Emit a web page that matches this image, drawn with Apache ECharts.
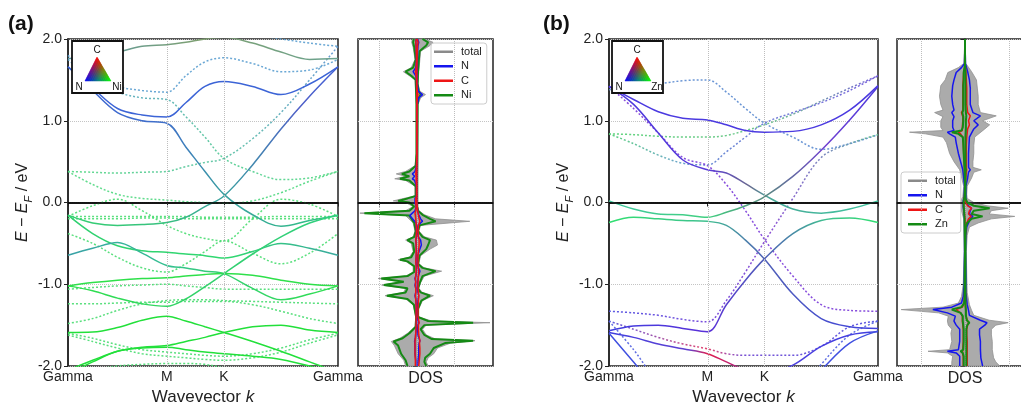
<!DOCTYPE html>
<html><head><meta charset="utf-8">
<script src="https://cdn.jsdelivr.net/npm/echarts@6/dist/echarts.min.js"></script>
<style>html,body{margin:0;padding:0;background:#fff}#c{width:1021px;height:404px}</style>
</head><body><div id="c"></div>
<script>
// ---------- k path ----------
const kPos = [0, 0.144, 0.289, 0.433, 0.577, 0.688, 0.800, 0.911, 1.078, 1.244, 1.411, 1.577];
const kTickPos = [0, 0.577, 0.911, 1.577];
const kTickLabels = ['Gamma', 'M', 'K', 'Gamma'];
const eTicks = [-2, -1, 0, 1, 2];

// ---------- panel (a) bands: solid (spin up) ----------
const sa1 = [1.76, 1.78, 1.84, 1.91, 1.93, 1.96, 2.0, 2.02, 1.95, 1.84, 1.75, 1.76];
const sa2 = [1.66, 1.40, 1.15, 1.07, 1.045, 1.22, 1.42, 1.48, 1.42, 1.32, 1.45, 1.66];
const sa3 = [1.66, 1.37, 1.10, 1.00, 0.97, 0.68, 0.38, 0.10, -0.15, -0.29, -0.22, -0.155];
const sa4 = [-0.155, -0.25, -0.28, -0.27, -0.245, -0.18, -0.05, 0.08, 0.46, 0.90, 1.30, 1.66];
const sa5 = [-0.155, -0.38, -0.53, -0.59, -0.61, -0.63, -0.65, -0.68, -0.60, -0.50, -0.56, -0.645];
const sa6 = [-0.645, -0.56, -0.49, -0.62, -0.77, -0.80, -0.84, -0.87, -1.05, -1.19, -1.12, -1.02];
const sa7 = [-1.02, -0.98, -0.95, -0.93, -0.92, -0.90, -0.88, -0.87, -0.89, -0.95, -1.00, -1.02];
const sa8 = [-1.02, -1.08, -1.17, -1.24, -1.27, -1.18, -1.03, -0.87, -0.63, -0.42, -0.25, -0.155];
const sa9 = [-1.59, -1.585, -1.53, -1.44, -1.39, -1.45, -1.52, -1.59, -1.70, -1.82, -1.95, -2.08];
const sa10 = [-2.05, -1.93, -1.82, -1.77, -1.75, -1.70, -1.65, -1.59, -1.52, -1.50, -1.56, -1.59];
const sa11 = [-2.10, -1.95, -1.82, -1.78, -1.77, -1.80, -1.83, -1.85, -1.88, -1.92, -2.00, -2.10];
// ---------- panel (a) bands: dotted (spin down) ----------
const da1 = [1.80, 1.55, 1.42, 1.37, 1.35, 1.55, 1.72, 1.77, 1.70, 1.60, 1.62, 1.75];
const da2 = [1.75, 1.50, 1.35, 1.28, 1.26, 1.05, 0.80, 0.54, 0.38, 0.28, 0.30, 0.38];
const da3 = [0.38, 0.37, 0.36, 0.37, 0.38, 0.44, 0.49, 0.54, 0.78, 1.10, 1.50, 1.91];
const da4 = [2.10, 2.10, 2.10, 2.10, 2.10, 2.10, 2.10, 2.08, 2.05, 2.00, 1.95, 1.91];
const da5 = [0.38, 0.22, 0.10, 0.05, 0.03, 0.01, 0.00, -0.01, 0.02, 0.12, 0.26, 0.38];
const da6 = [-0.17, -0.17, -0.17, -0.17, -0.17, -0.17, -0.18, -0.18, -0.18, -0.17, -0.17, -0.17];
const da7 = [-0.20, -0.20, -0.20, -0.19, -0.19, -0.20, -0.20, -0.20, -0.20, -0.20, -0.20, -0.20];
const da8 = [-0.17, -0.04, 0.04, -0.10, -0.28, -0.38, -0.44, -0.47, -0.20, 0.04, -0.02, -0.17];
const da9 = [-0.38, -0.50, -0.67, -0.80, -0.85, -0.75, -0.60, -0.47, -0.62, -0.75, -0.62, -0.38];
const da10 = [-1.06, -1.04, -1.02, -1.01, -1.00, -1.02, -1.04, -1.06, -1.06, -1.06, -1.06, -1.06];
const da11 = [-1.48, -1.42, -1.32, -1.24, -1.20, -1.19, -1.19, -1.20, -1.21, -1.22, -1.23, -1.24];
const da12 = [-1.24, -1.24, -1.23, -1.22, -1.22, -1.21, -1.21, -1.21, -1.25, -1.33, -1.42, -1.48];
const da13 = [-1.60, -1.66, -1.74, -1.80, -1.83, -1.85, -1.87, -1.88, -1.85, -1.78, -1.68, -1.60];
const da14 = [-1.62, -1.70, -1.78, -1.85, -1.88, -1.90, -1.92, -1.93, -1.90, -1.83, -1.72, -1.62];
const da15 = [-2.10, -2.05, -2.00, -1.98, -1.97, -1.97, -1.98, -2.02, -2.05, -2.10, -2.10, -2.10];

// ---------- panel (b) bands ----------
const sb1 = [1.42, 1.26, 1.11, 1.03, 1.01, 0.95, 0.88, 0.86, 0.87, 0.95, 1.13, 1.43];
const sb2 = [1.42, 1.20, 0.85, 0.52, 0.40, 0.36, 0.23, 0.09, -0.08, -0.13, -0.08, 0.02];
const sb3 = [0.02, -0.08, -0.14, -0.15, -0.18, -0.12, -0.04, 0.07, 0.32, 0.64, 1.01, 1.42];
const sb4 = [-0.245, -0.18, -0.20, -0.22, -0.23, -0.28, -0.46, -0.69, -1.12, -1.42, -1.52, -1.54];
const sb5 = [-1.57, -1.51, -1.50, -1.54, -1.58, -1.25, -0.95, -0.69, -0.38, -0.22, -0.19, -0.245];
const sb6 = [-1.59, -1.65, -1.73, -1.79, -1.85, -1.95, -2.05, -2.10, -1.99, -1.76, -1.62, -1.58];
const sb7 = [-1.60, -1.95, -2.30, -2.40, -2.50, -2.50, -2.50, -2.50, -2.40, -2.05, -1.72, -1.57];
const db1 = [1.38, 1.41, 1.45, 1.49, 1.50, 1.35, 1.15, 0.97, 0.80, 0.65, 0.72, 0.83];
const db2 = [0.84, 0.83, 0.81, 0.80, 0.80, 0.82, 0.88, 0.95, 1.08, 1.24, 1.40, 1.55];
const db3 = [0.84, 0.72, 0.58, 0.48, 0.46, 0.62, 0.80, 0.97, 1.10, 1.22, 1.37, 1.55];
const db4 = [1.42, 1.15, 0.85, 0.55, 0.45, 0.22, -0.10, -0.45, -0.90, -1.25, -1.32, -1.33];
const db5 = [-1.33, -1.35, -1.38, -1.43, -1.46, -1.20, -0.85, -0.48, 0.05, 0.55, 0.72, 0.83];
const db6 = [-1.45, -1.55, -1.65, -1.73, -1.79, -1.85, -1.87, -1.87, -1.87, -1.76, -1.52, -1.45];
const db7 = [-1.45, -1.80, -2.20, -2.40, -2.50, -2.50, -2.50, -2.50, -2.40, -1.98, -1.62, -1.45];

// ---------- DOS (a) ----------
const dosA_upE = [-2.0,-1.95,-1.9,-1.85,-1.78,-1.72,-1.69,-1.67,-1.62,-1.55,-1.5,-1.47,-1.45,-1.4,-1.3,-1.2,-1.14,-1.1,-1.05,-0.98,-0.9,-0.84,-0.8,-0.75,-0.65,-0.57,-0.52,-0.46,-0.42,-0.35,-0.28,-0.23,-0.2,-0.15,-0.1,-0.05,0.0,0.3,1.2,1.28,1.32,1.36,1.45,1.6,1.85,1.92,1.96,2.0];
const dosA_upTot = [0.3,0.25,0.3,0.45,0.55,0.9,1.55,0.5,0.25,0.15,0.25,1.95,0.4,0.05,0.05,0.15,0.44,0.15,0.05,0.1,0.2,0.66,0.2,0.05,0.1,0.35,0.55,0.52,0.2,0.05,0.1,1.41,0.5,0.2,0.05,0.02,0.02,0.02,0.03,0.1,0.23,0.08,0.03,0.05,0.1,0.35,0.43,0.2];
const dosA_upNi = [0.25,0.2,0.22,0.35,0.45,0.75,1.5,0.4,0.2,0.1,0.2,1.5,0.3,0.03,0.03,0.12,0.35,0.1,0.03,0.08,0.15,0.5,0.15,0.03,0.07,0.25,0.3,0.35,0.15,0.03,0.07,0.5,0.35,0.15,0.03,0.01,0.01,0.01,0.02,0.05,0.1,0.05,0.02,0.03,0.07,0.25,0.3,0.15];
const dosA_upN = [0.03,0.03,0.04,0.05,0.05,0.06,0.08,0.05,0.03,0.02,0.03,0.05,0.03,0.01,0.01,0.03,0.05,0.03,0.01,0.02,0.04,0.08,0.04,0.01,0.02,0.08,0.12,0.10,0.04,0.01,0.03,0.15,0.10,0.05,0.02,0.01,0.0,0.0,0.01,0.05,0.15,0.04,0.01,0.01,0.02,0.03,0.05,0.02];
const dosA_upC = [0.05,0.06,0.07,0.08,0.08,0.07,0.08,0.06,0.05,0.04,0.04,0.06,0.04,0.03,0.03,0.04,0.05,0.04,0.03,0.03,0.04,0.05,0.04,0.03,0.03,0.05,0.06,0.06,0.04,0.03,0.04,0.08,0.06,0.04,0.02,0.01,0.0,0.0,0.0,0.01,0.03,0.01,0.0,0.0,0.01,0.02,0.03,0.01];
const dosA_dnE = [-2.0,-1.93,-1.85,-1.75,-1.7,-1.66,-1.6,-1.52,-1.4,-1.25,-1.18,-1.14,-1.1,-1.05,-1.01,-0.97,-0.93,-0.9,-0.85,-0.78,-0.72,-0.7,-0.67,-0.6,-0.5,-0.46,-0.42,-0.35,-0.25,-0.16,-0.13,-0.1,-0.05,0.0,0.02,0.05,0.08,0.2,0.27,0.29,0.32,0.35,0.38,0.45,0.6,1.2,1.5,1.55,1.6,1.65,1.75,1.9,1.96,2.0];
const dosA_dnTot = [0.3,0.35,0.5,0.6,0.68,0.45,0.25,0.05,0.03,0.1,0.3,0.85,0.35,0.3,0.94,0.4,1.03,0.3,0.1,0.1,0.3,0.5,0.2,0.1,0.15,0.3,0.1,0.05,0.1,0.3,1.52,0.3,0.1,0.3,0.63,0.35,0.05,0.05,0.3,0.59,0.3,0.55,0.3,0.05,0.02,0.02,0.05,0.2,0.36,0.15,0.05,0.1,0.14,0.12];
const dosA_dnNi = [0.25,0.3,0.42,0.5,0.62,0.38,0.2,0.03,0.02,0.08,0.25,0.8,0.3,0.25,0.88,0.35,0.95,0.25,0.07,0.07,0.25,0.45,0.15,0.07,0.1,0.25,0.07,0.03,0.07,0.2,1.4,0.2,0.07,0.2,0.5,0.25,0.03,0.03,0.2,0.45,0.2,0.4,0.2,0.03,0.01,0.01,0.03,0.15,0.3,0.1,0.03,0.07,0.1,0.08];
const dosA_dnN = [0.03,0.03,0.05,0.05,0.06,0.04,0.03,0.01,0.01,0.02,0.03,0.05,0.03,0.03,0.05,0.03,0.05,0.03,0.01,0.01,0.03,0.04,0.02,0.01,0.02,0.03,0.01,0.01,0.02,0.19,0.12,0.05,0.02,0.05,0.1,0.05,0.01,0.01,0.06,0.12,0.06,0.12,0.05,0.01,0.0,0.0,0.01,0.03,0.1,0.03,0.01,0.02,0.03,0.02];
const dosA_dnC = [0.04,0.04,0.05,0.05,0.05,0.04,0.03,0.02,0.02,0.02,0.03,0.04,0.03,0.03,0.04,0.03,0.04,0.03,0.02,0.02,0.03,0.03,0.02,0.02,0.02,0.03,0.02,0.01,0.02,0.04,0.05,0.03,0.02,0.03,0.04,0.03,0.01,0.01,0.02,0.03,0.02,0.03,0.02,0.01,0.0,0.0,0.01,0.02,0.04,0.02,0.01,0.02,0.03,0.02];

// ---------- DOS (b) ----------
const dosB_upE = [-2.0,-1.95,-1.9,-1.8,-1.7,-1.62,-1.55,-1.5,-1.47,-1.44,-1.38,-1.32,-1.25,-1.1,-0.9,-0.6,-0.4,-0.3,-0.25,-0.2,-0.17,-0.14,-0.1,-0.07,-0.04,0.0,0.05,0.1,0.2,0.3,0.37,0.4,0.43,0.5,0.6,0.7,0.8,0.9,0.95,1.0,1.06,1.1,1.2,1.3,1.4,1.5,1.6,1.7,2.0];
const dosB_upTot = [0.79,0.7,0.65,0.62,0.62,0.6,0.6,0.7,0.98,0.55,0.2,0.15,0.1,0.05,0.04,0.03,0.05,0.1,0.3,0.6,1.13,0.55,0.6,0.98,0.5,0.2,0.05,0.04,0.05,0.15,0.2,0.37,0.18,0.18,0.2,0.2,0.22,0.45,0.56,0.4,0.71,0.35,0.3,0.3,0.28,0.26,0.15,0.02,0.0];
const dosB_upN = [0.4,0.38,0.36,0.35,0.35,0.33,0.33,0.45,0.5,0.35,0.1,0.08,0.05,0.02,0.02,0.01,0.02,0.04,0.08,0.12,0.18,0.1,0.12,0.15,0.08,0.04,0.02,0.02,0.02,0.06,0.08,0.12,0.08,0.08,0.08,0.09,0.1,0.2,0.3,0.2,0.35,0.18,0.12,0.12,0.12,0.1,0.06,0.01,0.0];
const dosB_upZn = [0.03,0.03,0.03,0.03,0.03,0.03,0.03,0.05,0.1,0.04,0.02,0.02,0.01,0.01,0.01,0.01,0.01,0.02,0.05,0.15,0.4,0.15,0.2,0.56,0.2,0.05,0.01,0.01,0.01,0.01,0.01,0.02,0.01,0.01,0.01,0.01,0.01,0.02,0.02,0.02,0.03,0.02,0.01,0.01,0.01,0.01,0.01,0.0,0.0];
const dosB_upC = [0.05,0.05,0.05,0.05,0.05,0.04,0.04,0.06,0.08,0.05,0.02,0.02,0.01,0.01,0.0,0.0,0.01,0.02,0.04,0.08,0.14,0.08,0.1,0.15,0.06,0.02,0.0,0.0,0.0,0.02,0.03,0.04,0.03,0.03,0.03,0.03,0.04,0.06,0.1,0.08,0.12,0.06,0.04,0.04,0.04,0.03,0.02,0.0,0.0];
const dosB_dnE = [-2.0,-1.95,-1.88,-1.84,-1.82,-1.8,-1.7,-1.6,-1.55,-1.5,-1.45,-1.39,-1.35,-1.31,-1.28,-1.23,-1.15,-1.0,-0.6,-0.2,-0.1,-0.05,0.02,0.07,0.2,0.4,0.5,0.6,0.73,0.8,0.84,0.86,0.88,0.92,1.0,1.05,1.1,1.13,1.2,1.3,1.43,1.5,1.59,1.65,1.7,2.0];
const dosB_dnTot = [0.3,0.3,0.28,0.4,0.84,0.35,0.3,0.32,0.3,0.38,0.4,0.38,0.6,1.45,0.5,0.15,0.08,0.04,0.02,0.03,0.08,0.12,0.1,0.05,0.03,0.12,0.25,0.35,0.42,0.5,0.9,1.26,0.5,0.55,0.55,0.5,0.69,0.5,0.55,0.58,0.55,0.45,0.39,0.15,0.03,0.0];
const dosB_dnN = [0.12,0.12,0.12,0.2,0.4,0.15,0.12,0.12,0.12,0.2,0.25,0.22,0.4,0.73,0.3,0.08,0.04,0.02,0.01,0.01,0.03,0.04,0.04,0.02,0.01,0.05,0.1,0.15,0.2,0.22,0.35,0.4,0.25,0.28,0.28,0.25,0.3,0.25,0.28,0.3,0.28,0.25,0.2,0.08,0.01,0.0];
const dosB_dnZn = [0.03,0.03,0.03,0.05,0.1,0.04,0.03,0.03,0.03,0.04,0.05,0.05,0.1,0.3,0.08,0.02,0.01,0.01,0.0,0.01,0.02,0.03,0.03,0.01,0.0,0.01,0.02,0.03,0.04,0.05,0.15,0.3,0.08,0.05,0.04,0.04,0.06,0.04,0.04,0.04,0.04,0.03,0.03,0.01,0.0,0.0];
const dosB_dnC = [0.04,0.04,0.04,0.06,0.1,0.05,0.04,0.04,0.04,0.05,0.06,0.06,0.1,0.2,0.06,0.02,0.01,0.0,0.0,0.0,0.02,0.03,0.03,0.01,0.0,0.01,0.02,0.03,0.04,0.05,0.1,0.15,0.06,0.06,0.05,0.05,0.08,0.05,0.05,0.05,0.05,0.04,0.03,0.01,0.0,0.0];

// ---------- styles (kept apart from data) ----------
const FONT = '"Liberation Sans", Arial, sans-serif';
const bandsA = [
  [sa1, 0, [[0,'#5a9aa8'],[0.5,'#7fa070'],[1,'#6aa290']]],
  [sa2, 0, [[0,'#3c64d6'],[1,'#3c64d6']]],
  [sa3, 0, [[0,'#3c64d6'],[0.37,'#4070c8'],[0.58,'#3aa0a0'],[1,'#30c880']]],
  [sa4, 0, [[0,'#33d070'],[0.37,'#38c080'],[0.58,'#3aa0a0'],[0.85,'#5060c8'],[1,'#4060d8']]],
  [sa5, 0, [[0,'#30d070'],[0.6,'#30d870'],[1,'#3aa8a0']]],
  [sa6, 0, [[0,'#3aa0a8'],[0.37,'#35c090'],[0.58,'#33d070'],[1,'#30e050']]],
  [sa7, 0, [[0,'#2ee04a'],[1,'#2ee04a']]],
  [sa8, 0, [[0,'#2ee04a'],[0.58,'#33d070'],[1,'#30d080']]],
  [sa9, 0, [[0,'#22e03a'],[1,'#22e03a']]],
  [sa10, 0, [[0,'#22e03a'],[1,'#22e03a']]],
  [sa11, 0, [[0,'#22e03a'],[1,'#22e03a']]],
  [da1, 1, [[0,'#5a9ed0'],[1,'#5a9ed0']]],
  [da2, 1, [[0,'#5aa0c8'],[0.37,'#55b0b0'],[0.6,'#50cc90'],[1,'#4fd880']]],
  [da3, 1, [[0,'#50d880'],[0.58,'#55c0a0'],[1,'#5a90d0']]],
  [da4, 1, [[0,'#5a9ed0'],[1,'#5a9ed0']]],
  [da5, 1, [[0,'#4fd880'],[1,'#4fd880']]],
  [da6, 1, [[0,'#48dc70'],[1,'#48dc70']]],
  [da7, 1, [[0,'#48dc70'],[1,'#48dc70']]],
  [da8, 1, [[0,'#48dc70'],[1,'#48dc70']]],
  [da9, 1, [[0,'#48dc70'],[1,'#48dc70']]],
  [da10, 1, [[0,'#48dc70'],[1,'#48dc70']]],
  [da11, 1, [[0,'#48dc70'],[1,'#48dc70']]],
  [da12, 1, [[0,'#48dc70'],[1,'#48dc70']]],
  [da13, 1, [[0,'#48dc70'],[1,'#48dc70']]],
  [da14, 1, [[0,'#48dc70'],[1,'#48dc70']]],
  [da15, 1, [[0,'#48dc70'],[1,'#48dc70']]]
];
const bandsB = [
  [sb1, 0, [[0,'#4b3ae0'],[1,'#4b3ae0']]],
  [sb2, 0, [[0,'#4b3ae0'],[0.37,'#5a3ad8'],[0.52,'#6a6a90'],[0.6,'#48a898'],[1,'#40c8a0']]],
  [sb3, 0, [[0,'#40c8a0'],[0.37,'#40d080'],[0.58,'#5a8a80'],[0.8,'#7040d0'],[1,'#4b3ae0']]],
  [sb4, 0, [[0,'#30e070'],[0.37,'#40c090'],[0.58,'#5060b8'],[1,'#4040e0']]],
  [sb5, 0, [[0,'#4040e0'],[0.37,'#5a30d8'],[0.58,'#5060b8'],[0.8,'#40c090'],[1,'#30e070']]],
  [sb6, 0, [[0,'#4040e0'],[0.3,'#6040d0'],[0.37,'#e02050'],[0.45,'#c02070'],[0.6,'#5040e0'],[1,'#4040e0']]],
  [sb7, 0, [[0,'#4050e0'],[1,'#4050e0']]],
  [db1, 1, [[0,'#5a8ad0'],[1,'#5a8ad0']]],
  [db2, 1, [[0,'#50d070'],[0.58,'#60c080'],[1,'#6a50d8']]],
  [db3, 1, [[0,'#50d070'],[0.25,'#5aa0c0'],[0.37,'#5a80d0'],[1,'#6a50d8']]],
  [db4, 1, [[0,'#7a3ad8'],[1,'#7a3ad8']]],
  [db5, 1, [[0,'#4a4ae0'],[0.37,'#6a3ad8'],[0.6,'#8040d0'],[0.85,'#6a90b0'],[1,'#55c080']]],
  [db6, 1, [[0,'#4a4ae0'],[0.37,'#e03060'],[0.5,'#6a40d0'],[1,'#4a4ae0']]],
  [db7, 1, [[0,'#5060e0'],[1,'#5060e0']]]
];

function grad(stops) {
  return {type:'linear', x:0, y:0, x2:1, y2:0, colorStops: stops.map(s => ({offset:s[0], color:s[1]}))};
}
function bandSeries(list, g) {
  return list.map((b, i) => ({
    type:'line', xAxisIndex:g, yAxisIndex:g, silent:true, symbol:'none', smooth:0.35,
    z: b[1] ? 3 : 4,
    data: kPos.map((k, j) => [k, b[0][j]]),
    lineStyle: {width:1.5, color: grad(b[2]), type: b[1] ? [2, 2] : 'solid', opacity: b[1] ? 0.9 : 1}
  }));
}
function fillSeries(E, V, sign, g) {
  return {
    type:'custom', name:'total', xAxisIndex:g, yAxisIndex:g, silent:true, z:2,
    data: E.map((e, i) => [sign * V[i], e]),
    renderItem: (params, api) => {
      if (params.dataIndex !== 0) return null;
      const pts = E.map((e, i) => api.coord([sign * V[i], e]));
      pts.push(api.coord([0, E[E.length - 1]]));
      pts.push(api.coord([0, E[0]]));
      return {type:'polygon', shape:{points:pts}, style:{fill:'#ababab', stroke:'#909090', lineWidth:0.8}};
    }
  };
}
function dosLine(E, V, sign, g, name, color, z, w) {
  return {type:'line', name, xAxisIndex:g, yAxisIndex:g, silent:true, symbol:'none', z:z,
    data: E.map((e, i) => [sign * V[i], e]), lineStyle:{color, width:w || 1.5}};
}
function guideSeries(g, xs) {
  return [{
    type:'line', xAxisIndex:g, yAxisIndex:g, data:[], silent:true, z:1,
    markLine:{silent:true, symbol:['none','none'], animation:false, label:{show:false},
      lineStyle:{type:'dotted', color:'#bdbdbd', width:1}, data: xs.map(x => ({xAxis:x}))}
  }, {
    type:'line', xAxisIndex:g, yAxisIndex:g, data:[], silent:true, z:10,
    markLine:{silent:true, symbol:['none','none'], animation:false, label:{show:false},
      lineStyle:{type:'solid', color:'#000', width:1.6}, data:[{yAxis:0}]}
  }];
}

const axisCol = '#222';
const gridBase = {show:true, borderColor:'#222', borderWidth:1.5, backgroundColor:'#fff', top:39, height:327, outerBoundsMode:'none', containLabel:false};
const yName = '{i|E} − {i|E}{sub|F} / eV';
function bandY(g) {
  return {type:'value', gridIndex:g, min:-2, max:2, interval:1,
    axisLine:{show:true, lineStyle:{color:axisCol, width:1.5}},
    axisTick:{show:true, length:4, lineStyle:{color:axisCol}},
    axisLabel:{fontSize:14, color:axisCol, fontFamily:FONT, margin:6, formatter: v => v.toFixed(1)},
    splitLine:{show:true, lineStyle:{type:'dotted', color:'#c4c4c4'}},
    name:yName, nameLocation:'middle', nameRotate:90, nameGap:32,
    nameTextStyle:{fontSize:16, color:axisCol, fontFamily:FONT, lineHeight:22,
      rich:{i:{fontStyle:'italic', fontSize:16, fontFamily:FONT, color:axisCol, lineHeight:22},
            sub:{fontStyle:'italic', fontSize:11, fontFamily:FONT, color:axisCol, lineHeight:14, verticalAlign:'bottom'}}}
  };
}
function bandX(g) {
  return {type:'value', gridIndex:g, min:0, max:1.577,
    axisLine:{show:true, lineStyle:{color:axisCol, width:1.5}},
    axisTick:{show:true, length:4, customValues:kTickPos, lineStyle:{color:axisCol}},
    axisLabel:{customValues:kTickPos, fontSize:14, color:axisCol, fontFamily:FONT, margin:4,
      formatter: v => { for (let i = 0; i < kTickPos.length; i++) if (Math.abs(kTickPos[i] - v) < 1e-6) return kTickLabels[i]; return ''; }},
    splitLine:{show:false},
    name:'Wavevector {i|k}', nameLocation:'middle', nameGap:16,
    nameTextStyle:{fontSize:17, color:axisCol, fontFamily:FONT, rich:{i:{fontStyle:'italic', fontSize:17, fontFamily:FONT, color:axisCol}}}
  };
}
function dosX(g, mn, mx) {
  return {type:'value', gridIndex:g, min:mn, max:mx,
    axisLine:{show:true, lineStyle:{color:axisCol, width:1.5}},
    axisTick:{show:true, length:4, customValues:[-1, 0, 1], lineStyle:{color:axisCol}},
    axisLabel:{show:false}, splitLine:{show:false},
    name:'DOS', nameLocation:'middle', nameGap:5,
    nameTextStyle:{fontSize:16, color:axisCol, fontFamily:FONT}
  };
}
function dosY(g) {
  return {type:'value', gridIndex:g, min:-2, max:2, interval:1,
    axisLine:{show:true, lineStyle:{color:axisCol, width:1.5}},
    axisTick:{show:true, length:4, lineStyle:{color:axisCol}},
    axisLabel:{show:false},
    splitLine:{show:true, lineStyle:{type:'dotted', color:'#c4c4c4'}}};
}

// triangle colour legend (decoration)
function triangle(bx, by, rightLabel) {
  const C = [bx + 25, by + 16], N = [bx + 13, by + 40], X = [bx + 39, by + 40];
  const n = 12, els = [];
  els.push({type:'rect', shape:{x:bx, y:by, width:51, height:52}, style:{fill:'#fff', stroke:'#111', lineWidth:1.8}, z:100});
  const P = (i, j) => [N[0] + (i / n) * (X[0] - N[0]) + (j / n) * (C[0] - N[0]), N[1] + (i / n) * (X[1] - N[1]) + (j / n) * (C[1] - N[1])];
  const col = (a, b) => { const wX = a, wC = b, wN = 1 - a - b;
    return 'rgb(' + Math.round(255 * wC) + ',' + Math.round(255 * wX) + ',' + Math.round(255 * wN) + ')'; };
  for (let i = 0; i < n; i++) for (let j = 0; j < n - i; j++) {
    const c1 = col((i + 1 / 3) / n, (j + 1 / 3) / n);
    els.push({type:'polygon', shape:{points:[P(i, j), P(i + 1, j), P(i, j + 1)]}, style:{fill:c1, stroke:c1, lineWidth:0.5}, z:101});
    if (j < n - i - 1) {
      const c2 = col((i + 2 / 3) / n, (j + 2 / 3) / n);
      els.push({type:'polygon', shape:{points:[P(i + 1, j), P(i + 1, j + 1), P(i, j + 1)]}, style:{fill:c2, stroke:c2, lineWidth:0.5}, z:101});
    }
  }
  const ts = {fontSize:10, fontFamily:FONT, fill:'#111', textAlign:'center', textVerticalAlign:'middle'};
  els.push({type:'text', x:bx + 25, y:by + 9, style:Object.assign({text:'C'}, ts), z:102});
  els.push({type:'text', x:bx + 7, y:by + 46, style:Object.assign({text:'N'}, ts), z:102});
  els.push({type:'text', x:bx + 45, y:by + 46, style:Object.assign({text:rightLabel}, ts), z:102});
  return els;
}

const legendCommon = {orient:'vertical', icon:'rect', itemWidth:19, itemHeight:2.5, itemGap:1,
  backgroundColor:'#fff', borderColor:'#cccccc', borderWidth:1, borderRadius:3, selectedMode:false,
  textStyle:{fontSize:11, fontFamily:FONT, color:'#222', lineHeight:13.5, padding:[0,0,0,3]}};
const legendItems = (last) => [
  {name:'total', itemStyle:{color:'#8a8a8a'}},
  {name:'N', itemStyle:{color:'#1515ee'}},
  {name:'C', itemStyle:{color:'#ee1515'}},
  {name:last, itemStyle:{color:'#148a14'}}
];

const series = [].concat(
  guideSeries(0, [0.577, 0.911]),
  bandSeries(bandsA, 0),
  guideSeries(1, [-1, 0, 1]),
  [fillSeries(dosA_upE, dosA_upTot, 1, 1), fillSeries(dosA_dnE, dosA_dnTot, -1, 1),
   dosLine(dosA_upE, dosA_upNi, 1, 1, 'Ni', '#148a14', 4, 2), dosLine(dosA_dnE, dosA_dnNi, -1, 1, 'Ni', '#148a14', 4, 2),
   dosLine(dosA_upE, dosA_upN, 1, 1, 'N', '#1515ee', 5), dosLine(dosA_dnE, dosA_dnN, -1, 1, 'N', '#1515ee', 5),
   dosLine(dosA_upE, dosA_upC, 1, 1, 'C', '#ee1515', 6), dosLine(dosA_dnE, dosA_dnC, -1, 1, 'C', '#ee1515', 6)],
  guideSeries(2, [0.577, 0.911]),
  bandSeries(bandsB, 2),
  guideSeries(3, [-1, 0, 1]),
  [fillSeries(dosB_upE, dosB_upTot, 1, 3), fillSeries(dosB_dnE, dosB_dnTot, -1, 3),
   dosLine(dosB_upE, dosB_upN, 1, 3, 'N', '#1515ee', 4), dosLine(dosB_dnE, dosB_dnN, -1, 3, 'N', '#1515ee', 4),
   dosLine(dosB_upE, dosB_upC, 1, 3, 'C', '#ee1515', 5), dosLine(dosB_dnE, dosB_dnC, -1, 3, 'C', '#ee1515', 5),
   dosLine(dosB_upE, dosB_upZn, 1, 3, 'Zn', '#148a14', 6, 2), dosLine(dosB_dnE, dosB_dnZn, -1, 3, 'Zn', '#148a14', 6, 2)]
);

const chart = echarts.init(document.getElementById('c'), null, {renderer:'canvas'});
chart.setOption({
  animation:false,
  backgroundColor:'#fff',
  grid:[
    Object.assign({left:68, width:270}, gridBase),
    Object.assign({left:358, width:135}, gridBase),
    Object.assign({left:609, width:269}, gridBase),
    Object.assign({left:897, width:136}, gridBase)
  ],
  xAxis:[bandX(0), dosX(1, -1.57, 2.03), bandX(2), dosX(3, -1.545, 1.545)],
  yAxis:[bandY(0), dosY(1), bandY(2), dosY(3)],
  legend:[
    Object.assign({left:431, top:43, padding:[2,5,2,3], data:legendItems('Ni')}, legendCommon),
    Object.assign({left:901, top:172, padding:[2,5,2,7], data:legendItems('Zn')}, legendCommon)
  ],
  graphic:[].concat(
    [{type:'text', left:8, top:14, style:{text:'(a)', fontSize:21, fontWeight:'bold', fontFamily:FONT, fill:'#111'}},
     {type:'text', left:543, top:14, style:{text:'(b)', fontSize:21, fontWeight:'bold', fontFamily:FONT, fill:'#111'}}],
    triangle(72, 41, 'Ni'),
    triangle(612, 41, 'Zn')
  ),
  series: series
});
</script></body></html>
